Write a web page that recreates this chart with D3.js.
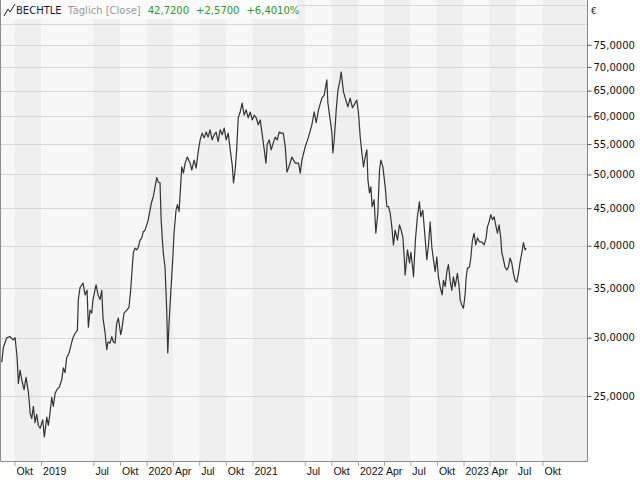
<!DOCTYPE html>
<html><head><meta charset="utf-8">
<script src="https://cdn.jsdelivr.net/npm/d3@7"></script>
<style>html,body{margin:0;padding:0;background:#fff;}svg{display:block;}</style>
</head><body><svg id="c" width="640" height="480"></svg>
<script>
// ---- data (decimal year, close price in EUR) ----
const yearFrac = [2018.628,2018.643,2018.675,2018.706,2018.735,2018.754,2018.773,2018.785,2018.801,2018.817,2018.839,2018.858,2018.880,2018.889,2018.896,2018.912,2018.927,2018.943,2018.959,2018.974,2018.991,2019.016,2019.031,2019.054,2019.069,2019.085,2019.101,2019.116,2019.133,2019.149,2019.173,2019.196,2019.211,2019.227,2019.243,2019.265,2019.291,2019.306,2019.322,2019.344,2019.353,2019.369,2019.398,2019.417,2019.436,2019.448,2019.464,2019.480,2019.492,2019.521,2019.540,2019.559,2019.575,2019.587,2019.606,2019.622,2019.634,2019.653,2019.670,2019.685,2019.701,2019.717,2019.732,2019.755,2019.764,2019.786,2019.812,2019.833,2019.849,2019.859,2019.874,2019.890,2019.906,2019.921,2019.938,2019.954,2019.969,2019.985,2020.001,2020.016,2020.032,2020.048,2020.063,2020.080,2020.096,2020.111,2020.127,2020.136,2020.149,2020.158,2020.174,2020.190,2020.200,2020.212,2020.228,2020.247,2020.259,2020.278,2020.291,2020.307,2020.323,2020.332,2020.348,2020.364,2020.385,2020.411,2020.427,2020.449,2020.468,2020.490,
2020.506,2020.525,2020.544,2020.563,2020.581,2020.600,2020.619,2020.638,2020.657,2020.676,2020.695,2020.714,2020.733,2020.752,2020.771,2020.790,2020.809,2020.821,2020.837,2020.851,2020.866,2020.884,2020.903,2020.922,2020.941,2020.960,2020.979,2020.998,2021.017,2021.036,2021.055,2021.074,2021.093,2021.112,2021.128,2021.140,2021.159,2021.178,2021.197,2021.216,2021.235,2021.254,2021.273,2021.292,
2021.311,2021.327,2021.342,2021.374,2021.405,2021.437,2021.453,2021.469,2021.500,2021.531,2021.563,2021.585,2021.604,2021.626,2021.658,2021.680,2021.705,2021.715,2021.737,2021.753,2021.762,2021.775,2021.794,2021.810,2021.825,2021.841,2021.863,2021.885,2021.904,2021.926,2021.948,2021.973,2021.989,2022.005,2022.021,2022.037,2022.052,2022.068,2022.084,2022.094,2022.109,2022.122,2022.134,2022.153,2022.169,2022.188,2022.204,2022.217,2022.236,2022.258,2022.274,2022.289,2022.305,2022.321,2022.336,2022.352,2022.374,2022.393,2022.409,2022.425,2022.438,2022.447,2022.469,2022.488,2022.501,2022.520,2022.526,2022.544,2022.563,2022.582,2022.595,2022.614,2022.630,2022.652,2022.668,2022.684,2022.700,2022.715,2022.731,2022.747,2022.762,2022.778,2022.797,2022.810,2022.826,2022.842,2022.857,2022.873,2022.889,2022.904,2022.920,2022.942,2022.958,2022.968,2022.984,2022.999,2023.015,2023.025,2023.037,2023.056,2023.069,2023.084,2023.100,2023.116,2023.132,2023.150,2023.173,2023.195,2023.214,2023.226,2023.242,2023.258,2023.274,2023.290,2023.309,2023.321,2023.337,2023.353,2023.362,2023.375,2023.394,2023.410,2023.425,2023.441,2023.457,2023.473,2023.489,2023.505,2023.520,2023.536,2023.552,2023.567,2023.583,2023.593];
const close = [27.8,29.1,30.0,30.1,29.8,30.0,28.2,26.0,27.1,26.3,25.5,26.5,25.3,24.5,23.7,23.3,24.2,23.0,23.6,22.8,22.6,23.2,22.0,23.4,22.8,23.7,24.9,24.2,25.2,25.5,25.7,26.3,27.3,26.9,28.2,28.6,29.6,30.1,30.4,30.7,33.8,35.1,35.6,34.3,34.8,31.0,32.7,32.4,33.8,35.4,34.3,33.8,34.8,31.9,30.5,28.9,29.6,29.5,30.1,29.6,29.5,31.4,31.9,30.3,30.7,32.4,32.7,33.0,34.8,36.5,39.1,39.7,39.5,39.8,40.7,41.0,41.8,42.0,42.7,43.4,44.7,45.9,46.6,48.1,49.5,48.8,48.7,43.8,40.7,39.1,37.4,32.7,28.6,31.4,34.5,38.3,41.6,44.7,45.5,44.5,48.7,51.2,50.2,51.8,52.8,51.8,50.7,52.3,51.0,54.0,
55.7,56.9,56.1,57.1,56.2,57.5,55.7,56.6,57.1,55.4,57.5,56.6,57.8,55.7,56.9,54.0,51.5,48.7,50.7,54.0,59.7,60.8,62.5,60.2,61.2,59.7,60.8,59.3,60.2,59.7,58.4,59.3,56.6,54.0,51.8,54.9,55.7,54.0,55.2,56.2,55.7,57.1,56.9,56.9,
54.5,50.4,51.0,52.8,51.8,51.8,50.2,52.3,54.5,56.2,58.4,60.8,58.8,61.2,63.5,64.1,67.2,62.5,59.3,56.9,53.5,55.7,61.2,65.1,66.6,68.9,64.7,63.1,61.8,63.5,61.6,62.5,63.1,60.6,56.2,53.5,51.2,52.8,54.0,49.2,47.2,48.1,45.2,46.2,41.6,44.3,50.7,52.3,51.2,48.1,45.2,45.2,44.3,42.4,40.1,42.0,40.7,42.7,42.0,41.1,38.6,36.5,39.5,37.9,39.2,37.1,36.3,40.7,43.8,45.9,43.8,44.7,42.0,38.3,40.1,43.1,39.8,38.3,36.9,38.6,36.3,35.2,34.3,35.9,35.2,36.9,37.7,35.9,34.8,36.3,35.2,36.7,35.2,33.8,33.2,32.9,34.3,36.2,37.3,37.4,38.5,40.7,41.6,40.1,41.0,40.5,40.5,40.1,41.0,42.4,43.1,44.1,43.4,43.8,42.4,41.6,42.7,41.0,39.2,38.5,37.4,37.1,37.4,38.5,37.9,36.7,35.9,35.7,36.7,38.0,39.1,40.4,39.5,39.7];

const domainDates = ["2018-08-12","2024-03-03"];
const tickDates = ["2018-10-01","2019-01-01","2019-07-01","2019-10-01","2020-01-01","2020-04-01","2020-07-01","2020-10-01","2021-01-01","2021-07-01","2021-10-01","2022-01-01","2022-04-01","2022-07-01","2022-10-01","2023-01-01","2023-04-01","2023-07-01","2023-10-01"];
const tickLabels = ["Okt","2019","Jul","Okt","2020","Apr","Jul","Okt","2021","Jul","Okt","2022","Apr","Jul","Okt","2023","Apr","Jul","Okt"];
const gridValues = [25,30,35,40,45,50,55,60,65,70,75,80,85];
const priceLabels = [25,30,35,40,45,50,55,60,65,70,75];
const yDomain = [20.4, 86.3];
const header = {name:"BECHTLE", mode:"Täglich [Close]", last:"42,7200", chg:"+2,5700", pct:"+6,4010%", unit:"€"};

// ---- layout ----
const L = 0, R = 587, T = 0, B = 461;
const parse = d3.timeParse("%Y-%m-%d");
function fromYearFrac(t){const y=Math.floor(t);const s=new Date(y,0,1),e=new Date(y+1,0,1);return new Date(+s+(t-y)*(e-s));}
const data = yearFrac.map((t,i)=>({date:fromYearFrac(t), v:close[i]}));

const x = d3.scaleTime().domain(domainDates.map(parse)).range([L,R]);
const y = d3.scaleLog().domain(yDomain).range([B,T]);
const svg = d3.select("#c");
const font = "'DejaVu Sans', Verdana, sans-serif";

// background bands
const bounds = [L, ...tickDates.map(d=>x(parse(d))), R];
svg.append("g").selectAll("rect").data(d3.range(bounds.length-1)).join("rect")
  .attr("x", i=>bounds[i]).attr("y", T).attr("width", i=>bounds[i+1]-bounds[i]).attr("height", B-T)
  .attr("fill", i=> i%2===0 ? "#f7f7f7" : "#efefef");

// horizontal gridlines
svg.append("g").selectAll("line").data(gridValues).join("line")
  .attr("x1", L).attr("x2", R).attr("y1", d=>Math.round(y(d))+0.5).attr("y2", d=>Math.round(y(d))+0.5)
  .attr("stroke", "#d6d6d6").attr("stroke-width", 1);

// price line
svg.append("path").datum(data)
  .attr("d", d3.line().x(d=>x(d.date)).y(d=>y(d.v)))
  .attr("fill","none").attr("stroke","#333").attr("stroke-width",1.2).attr("stroke-linejoin","round");

// header background box
svg.append("rect").attr("x",1).attr("y",0).attr("width",296).attr("height",19).attr("fill","#fbfbfb");

// frame
svg.append("path").attr("d", `M${L+0.5},${T}V${B+0.5}H${R+0.5}V${T}`)
  .attr("fill","none").attr("stroke","#8a8a8a").attr("stroke-width",1);

// right axis
const yAxis = d3.axisRight(y).tickValues(priceLabels).tickSize(4).tickPadding(2)
  .tickFormat(d=>d3.format(".4f")(d).replace(".",","));
const ya = svg.append("g").attr("transform",`translate(${R+0.5},0)`).call(yAxis);
ya.select(".domain").remove();
ya.selectAll(".tick line").attr("stroke","#555");
ya.selectAll("text").attr("font-family",font).attr("font-size",10).attr("fill","#111");
svg.append("text").attr("x",591).attr("y",14).attr("font-family",font).attr("font-size",9).attr("fill","#222").text(header.unit);

// bottom axis
const xAxis = d3.axisBottom(x).tickValues(tickDates.map(parse)).tickSize(4).tickFormat((d,i)=>tickLabels[i]);
const xa = svg.append("g").attr("transform",`translate(0,${B+1})`).call(xAxis);
xa.select(".domain").remove();
xa.selectAll(".tick line").attr("stroke","#b0a890");
xa.selectAll("text").attr("font-family","'Liberation Sans', Arial, sans-serif").attr("font-size",10.5)
  .attr("fill","#111").attr("text-anchor","start").attr("x",1.5).attr("y",6).attr("dy","0.71em");

// header
const hg = svg.append("g");
hg.append("path").attr("d","M4,16 L8,9 L10,12 L15,4").attr("fill","none").attr("stroke","#222").attr("stroke-width",1);
const ht = hg.append("text").attr("x",16).attr("y",14).attr("font-family",font).attr("font-size",10);
ht.append("tspan").attr("fill","#1a1a3a").text(header.name);
ht.append("tspan").attr("dx",6).attr("fill","#999").text(header.mode);
ht.append("tspan").attr("dx",7).attr("fill","#2a9a2a").text(header.last);
ht.append("tspan").attr("dx",7).attr("fill","#2a9a2a").text(header.chg);
ht.append("tspan").attr("dx",7).attr("fill","#2a9a2a").text(header.pct);
</script></body></html>
